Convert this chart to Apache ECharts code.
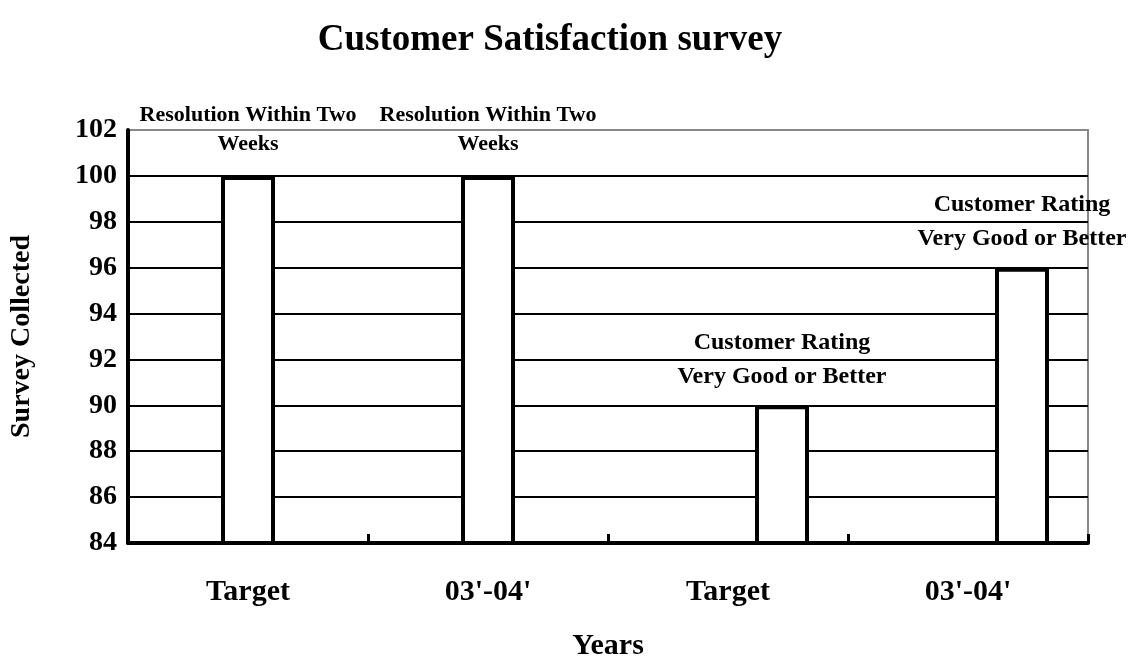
<!DOCTYPE html>
<html>
<head>
<meta charset="utf-8">
<script src="https://cdn.jsdelivr.net/npm/echarts@6/dist/echarts.min.js"></script>
<style>
  html, body { margin: 0; padding: 0; background: #fff; }
  #main { width: 1147px; height: 662px; }
</style>
</head>
<body>
<div id="main"></div>
<script>
// data
var categories = ["Target", "03'-04'", "Target", "03'-04'"];
var placeholder = [null, null, null, null];
var resolution = [100, 100, null, null];
var rating = [null, null, 90, 96];
var resolutionLabel = "Resolution Within Two\nWeeks";
var ratingLabel = "Customer Rating\nVery Good or Better";

var serif = "'Liberation Serif', 'Times New Roman', serif";

var myChart = echarts.init(document.getElementById("main"));

// gridlines: black, top one grey like the frame
var splitColors = ["#000", "#000", "#000", "#000", "#000", "#000", "#000", "#000", "#000", "#888"];

function barSeries(name, data, label, size, lh, dist) {
  return {
    name: name,
    type: "bar",
    data: data,
    barWidth: 54,
    barGap: "0%",
    itemStyle: { color: "#fff", borderColor: "#000", borderWidth: 4 },
    label: {
      show: label !== "",
      position: "top",
      distance: dist,
      formatter: label,
      fontFamily: serif,
      fontWeight: "bold",
      fontSize: size,
      lineHeight: lh,
      color: "#000"
    }
  };
}

var option = {
  animation: false,
  title: {
    text: "Customer Satisfaction survey",
    left: 545,
    top: 17,
    textAlign: "center",
    textStyle: { fontFamily: serif, fontWeight: "bold", fontSize: 37, color: "#000" }
  },
  grid: {
    left: 128,
    right: 59,
    top: 130,
    bottom: 119,
    outerBoundsMode: "none",
    containLabel: false,
    show: true,
    borderColor: "#888",
    borderWidth: 2
  },
  xAxis: {
    type: "category",
    data: categories,
    name: "Years",
    nameLocation: "middle",
    nameGap: 88,
    nameTextStyle: { fontFamily: serif, fontWeight: "bold", fontSize: 30, color: "#000" },
    axisLine: { lineStyle: { color: "#000", width: 4 } },
    axisTick: { show: true, inside: true, length: 9, lineStyle: { color: "#000", width: 3 } },
    axisLabel: { fontFamily: serif, fontWeight: "bold", fontSize: 30, color: "#000", margin: 34 }
  },
  yAxis: {
    type: "value",
    min: 84,
    max: 102,
    interval: 2,
    name: "Survey Collected",
    nameLocation: "middle",
    nameGap: 92,
    nameTextStyle: { fontFamily: serif, fontWeight: "bold", fontSize: 28, color: "#000" },
    axisLine: { show: true, lineStyle: { color: "#000", width: 4 } },
    axisTick: { show: false },
    axisLabel: { fontFamily: serif, fontWeight: "bold", fontSize: 28, color: "#000", margin: 11 },
    splitLine: { show: true, lineStyle: { color: splitColors, width: 2 } }
  },
  series: [
    barSeries("blank", placeholder, "", 12, 12, 0),
    barSeries("Resolution Within Two Weeks", resolution, resolutionLabel, 22, 29, 17),
    barSeries("Customer Rating Very Good or Better", rating, ratingLabel, 24, 34, 12)
  ]
};

myChart.setOption(option);
</script>
</body>
</html>
